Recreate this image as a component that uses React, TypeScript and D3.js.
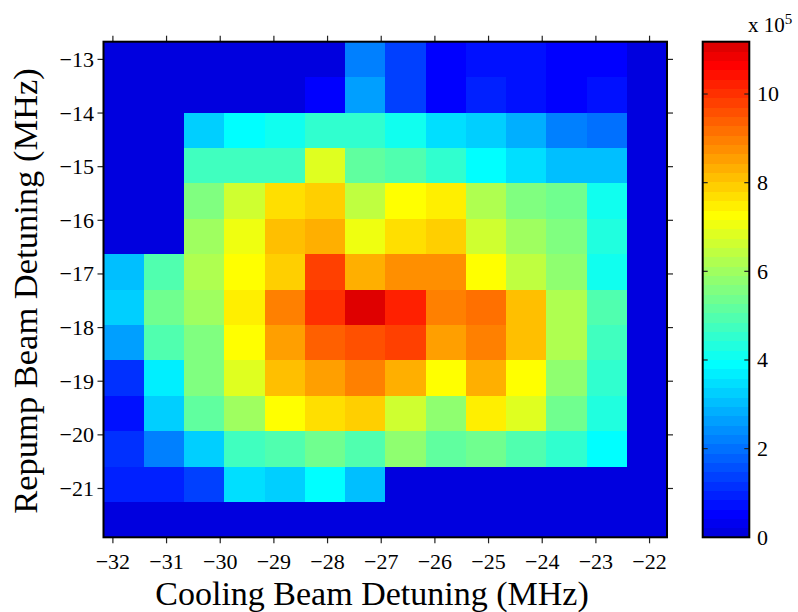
import * as d3 from "d3";

// cell centres (MHz)
const coolingDetuning = [-31.8, -31.05, -30.3, -29.55, -28.8, -28.05, -27.3, -26.55, -25.8, -25.05, -24.3, -23.55, -22.8, -22.05];
const repumpDetuning = [-13, -13.66, -14.32, -14.98, -15.64, -16.3, -16.96, -17.62, -18.28, -18.94, -19.6, -20.26, -20.92, -21.58];

// atom number, x 10^5 (rows = repump, top to bottom; cols = cooling)
const atomCounts = [
  [0, 0, 0, 0, 0, 0, 2.21, 1.37, 0.53, 0.74, 0.74, 0.53, 0.53, 0],
  [0, 0, 0, 0, 0, 0.53, 2.64, 1.37, 0.53, 0.95, 0.74, 0.53, 0.74, 0],
  [0, 0, 3.27, 3.9, 4.11, 4.54, 4.6, 4.11, 3.48, 3.27, 2.85, 2.21, 2.0, 0],
  [0, 0, 4.75, 4.75, 4.75, 6.86, 5.17, 4.96, 4.54, 3.9, 3.48, 3.06, 3.06, 0],
  [0, 0, 5.59, 6.64, 7.7, 7.91, 6.43, 7.28, 7.49, 6.22, 5.59, 5.38, 4.11, 0],
  [0, 0, 6.01, 7.07, 8.12, 8.33, 7.07, 7.7, 7.91, 6.64, 6.01, 5.59, 4.32, 0],
  [3.06, 4.96, 6.22, 7.28, 7.91, 9.81, 8.33, 8.75, 8.75, 7.28, 6.43, 5.8, 4.11, 0],
  [3.27, 5.38, 6.01, 7.49, 8.96, 10.02, 11.18, 10.23, 8.96, 9.17, 8.12, 6.22, 4.96, 0],
  [2.64, 4.96, 5.59, 7.28, 8.54, 9.39, 9.6, 9.81, 8.54, 8.96, 8.12, 6.22, 4.75, 0],
  [1.16, 3.69, 5.59, 6.86, 8.12, 8.54, 8.96, 8.33, 7.28, 8.33, 7.28, 5.8, 4.54, 0],
  [0.74, 3.27, 5.17, 6.01, 7.28, 7.7, 7.91, 6.64, 5.8, 7.49, 6.86, 5.38, 4.32, 0],
  [1.16, 2.21, 3.27, 4.75, 4.96, 5.38, 4.96, 5.8, 5.17, 5.38, 4.96, 4.54, 3.9, 0],
  [0.95, 0.95, 1.37, 3.48, 3.27, 3.9, 3.06, 0, 0, 0, 0, 0, 0, 0],
  [0, 0, 0, 0, 0, 0, 0, 0, 0, 0, 0, 0, 0, 0],
];

const xTicks = [-32, -31, -30, -29, -28, -27, -26, -25, -24, -23, -22];
const yTicks = [-13, -14, -15, -16, -17, -18, -19, -20, -21];
const colorTicks = [0, 2, 4, 6, 8, 10];

const font = "'Liberation Serif', 'Times New Roman', 'DejaVu Serif', serif";

// matlab jet(64) row j (1-based)
function u(k: number) {
  if (k >= 1 && k <= 16) return k / 16;
  if (k >= 17 && k <= 31) return 1;
  if (k >= 32 && k <= 47) return (48 - k) / 16;
  return 0;
}
function jet(j: number) {
  return d3.rgb(u(j - 24) * 255, u(j - 8) * 255, u(j + 8) * 255).formatHex();
}

export default function App() {
  const left = 103.5, right = 667, top = 41.7, bottom = 537.3;
  const cellW = 0.75, cellH = 0.66;

  const x = d3.scaleLinear([coolingDetuning[0] - cellW / 2, coolingDetuning[13] + cellW / 2], [left, right]);
  const y = d3.scaleLinear([repumpDetuning[0] + cellH / 2, repumpDetuning[13] - cellH / 2], [top, bottom]);

  const vmax = d3.max(atomCounts.flat()) as number;
  const nColors = 53;
  const colors = d3.range(nColors).map((i) => jet(6 + i));
  const color = d3.scaleQuantize<string>().domain([0, vmax]).range(colors);

  const cbLeft = 702.7, cbRight = 749.3;
  const cbY = d3.scaleLinear([0, vmax], [bottom, top]);

  const tick = 6;

  return (
    <svg width={798} height={612} style={{ position: "absolute", left: 0, top: 0, background: "#fff" }} fontFamily={font}>
      {/* heatmap */}
      <g shapeRendering="crispEdges">
        {atomCounts.map((row, ri) =>
          row.map((v, ci) => (
            <rect
              key={ri + "-" + ci}
              x={x(coolingDetuning[ci] - cellW / 2)}
              y={y(repumpDetuning[ri] + cellH / 2)}
              width={x(coolingDetuning[ci] + cellW / 2) - x(coolingDetuning[ci] - cellW / 2) + 0.5}
              height={y(repumpDetuning[ri] - cellH / 2) - y(repumpDetuning[ri] + cellH / 2) + 0.5}
              fill={color(v)}
            />
          ))
        )}
      </g>

      {/* ticks, outward on all sides */}
      <g stroke="#222" strokeWidth={1.2}>
        {xTicks.map((t) => (
          <g key={"xt" + t}>
            <line x1={x(t)} x2={x(t)} y1={bottom} y2={bottom + tick} />
            <line x1={x(t)} x2={x(t)} y1={top} y2={top - tick} />
          </g>
        ))}
        {yTicks.map((t) => (
          <g key={"yt" + t}>
            <line x1={left} x2={left - tick} y1={y(t)} y2={y(t)} />
            <line x1={right} x2={right + tick} y1={y(t)} y2={y(t)} />
          </g>
        ))}
      </g>
      <rect x={left} y={top} width={right - left} height={bottom - top} fill="none" stroke="#000" strokeWidth={2} />

      {/* tick labels */}
      <g fontSize={22} fill="#000">
        {xTicks.map((t) => (
          <text key={"xl" + t} x={x(t)} y={569} textAnchor="middle">
            {d3.format("d")(t)}
          </text>
        ))}
        {yTicks.map((t) => (
          <text key={"yl" + t} x={94} y={y(t)} dy="0.34em" textAnchor="end">
            {d3.format("d")(t)}
          </text>
        ))}
      </g>

      {/* axis labels */}
      <text x={372} y={605} textAnchor="middle" fontSize={34}>
        Cooling Beam Detuning (MHz)
      </text>
      <text transform={`translate(37,${291}) rotate(-90)`} textAnchor="middle" fontSize={34.5}>
        Repump Beam Detuning (MHz)
      </text>

      {/* colorbar */}
      <g shapeRendering="crispEdges">
        {colors.map((c, i) => (
          <rect
            key={"cb" + i}
            x={cbLeft}
            y={cbY(((i + 1) * vmax) / nColors)}
            width={cbRight - cbLeft}
            height={cbY((i * vmax) / nColors) - cbY(((i + 1) * vmax) / nColors) + 0.5}
            fill={c}
          />
        ))}
      </g>
      <g stroke="#222" strokeWidth={1.2}>
        {colorTicks.map((t) => (
          <g key={"ct" + t}>
            <line x1={cbLeft} x2={cbLeft + 5} y1={cbY(t)} y2={cbY(t)} />
            <line x1={cbRight} x2={cbRight - 5} y1={cbY(t)} y2={cbY(t)} />
          </g>
        ))}
      </g>
      <rect x={cbLeft} y={top} width={cbRight - cbLeft} height={bottom - top} fill="none" stroke="#000" strokeWidth={2} />
      <g fontSize={22}>
        {colorTicks.map((t) => (
          <text key={"cl" + t} x={757} y={cbY(t)} dy="0.34em">
            {t}
          </text>
        ))}
      </g>
      <text x={748} y={32} fontSize={21}>
        x 10<tspan fontSize={15} dy={-8}>5</tspan>
      </text>
    </svg>
  );
}
